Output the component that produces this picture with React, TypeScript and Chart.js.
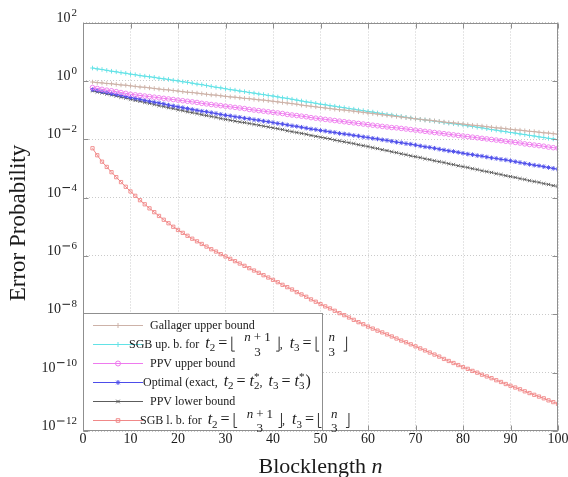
import { useEffect, useRef } from "react";
import { Chart, registerables } from "chart.js";

Chart.register(...registerables);

// ---------------- data ----------------
const blocklengths = [
  2, 3, 4, 5, 6, 7, 8, 9, 10,
  11, 12, 13, 14, 15, 16, 17, 18, 19, 20,
  21, 22, 23, 24, 25, 26, 27, 28, 29, 30,
  31, 32, 33, 34, 35, 36, 37, 38, 39, 40,
  41, 42, 43, 44, 45, 46, 47, 48, 49, 50,
  51, 52, 53, 54, 55, 56, 57, 58, 59, 60,
  61, 62, 63, 64, 65, 66, 67, 68, 69, 70,
  71, 72, 73, 74, 75, 76, 77, 78, 79, 80,
  81, 82, 83, 84, 85, 86, 87, 88, 89, 90,
  91, 92, 93, 94, 95, 96, 97, 98, 99, 100,
];

const xTickValues = [0, 10, 20, 30, 40, 50, 60, 70, 80, 90, 100];
const yTickExponents = [2, 0, -2, -4, -6, -8, -10, -12];

// log10 of the error probability, one value per blocklength
const gallagerUpperLog10 = [
  -0.04, -0.06, -0.07, -0.09, -0.10, -0.12, -0.14, -0.15, -0.17,
  -0.19, -0.21, -0.22, -0.24, -0.26, -0.28, -0.30, -0.31, -0.33, -0.35,
  -0.37, -0.39, -0.40, -0.42, -0.44, -0.46, -0.48, -0.49, -0.51, -0.53,
  -0.55, -0.56, -0.58, -0.60, -0.61, -0.63, -0.65, -0.66, -0.68, -0.70,
  -0.72, -0.74, -0.76, -0.78, -0.80, -0.83, -0.85, -0.87, -0.89, -0.91,
  -0.93, -0.95, -0.97, -0.99, -1.00, -1.02, -1.04, -1.06, -1.08, -1.10,
  -1.12, -1.14, -1.16, -1.18, -1.20, -1.22, -1.24, -1.26, -1.28, -1.30,
  -1.32, -1.34, -1.35, -1.37, -1.39, -1.41, -1.43, -1.44, -1.46, -1.48,
  -1.50, -1.52, -1.53, -1.55, -1.57, -1.59, -1.61, -1.62, -1.64, -1.66,
  -1.68, -1.69, -1.71, -1.73, -1.74, -1.76, -1.78, -1.79, -1.81, -1.83,
];

const sgbUpperLog10 = [
  0.44, 0.41, 0.39, 0.36, 0.33, 0.31, 0.28, 0.26, 0.23,
  0.21, 0.18, 0.16, 0.14, 0.12, 0.09, 0.07, 0.05, 0.02, 0.0,
  -0.03, -0.05, -0.08, -0.11, -0.13, -0.16, -0.19, -0.22, -0.24, -0.27,
  -0.30, -0.32, -0.35, -0.37, -0.40, -0.42, -0.45, -0.47, -0.50, -0.52,
  -0.55, -0.58, -0.60, -0.63, -0.66, -0.69, -0.72, -0.74, -0.77, -0.80,
  -0.82, -0.85, -0.87, -0.90, -0.92, -0.95, -0.97, -1.00, -1.02, -1.05,
  -1.07, -1.10, -1.12, -1.15, -1.17, -1.20, -1.22, -1.25, -1.27, -1.30,
  -1.32, -1.34, -1.36, -1.38, -1.40, -1.43, -1.45, -1.47, -1.49, -1.51,
  -1.54, -1.56, -1.59, -1.61, -1.64, -1.67, -1.69, -1.72, -1.74, -1.77,
  -1.79, -1.82, -1.84, -1.87, -1.89, -1.92, -1.94, -1.97, -1.99, -2.02,
];

const ppvUpperLog10 = [
  -0.23, -0.26, -0.29, -0.32, -0.34, -0.37, -0.40, -0.43, -0.46,
  -0.48, -0.50, -0.52, -0.54, -0.56, -0.58, -0.60, -0.62, -0.64, -0.66,
  -0.68, -0.70, -0.72, -0.74, -0.77, -0.79, -0.81, -0.83, -0.85, -0.87,
  -0.89, -0.91, -0.93, -0.95, -0.98, -1.00, -1.02, -1.04, -1.06, -1.08,
  -1.10, -1.12, -1.15, -1.17, -1.19, -1.21, -1.23, -1.26, -1.28, -1.30,
  -1.32, -1.34, -1.36, -1.38, -1.40, -1.42, -1.44, -1.46, -1.48, -1.50,
  -1.52, -1.54, -1.56, -1.58, -1.60, -1.61, -1.63, -1.65, -1.67, -1.69,
  -1.71, -1.73, -1.75, -1.77, -1.79, -1.81, -1.83, -1.85, -1.87, -1.89,
  -1.91, -1.93, -1.95, -1.97, -1.99, -2.01, -2.03, -2.05, -2.07, -2.09,
  -2.11, -2.13, -2.16, -2.18, -2.20, -2.22, -2.24, -2.27, -2.29, -2.31,
];

const optimalLog10 = [
  -0.30, -0.33, -0.37, -0.40, -0.44, -0.47, -0.50, -0.54, -0.57,
  -0.60, -0.63, -0.67, -0.70, -0.73, -0.76, -0.79, -0.83, -0.86, -0.89,
  -0.92, -0.95, -0.98, -1.01, -1.04, -1.06, -1.09, -1.12, -1.15, -1.18,
  -1.20, -1.23, -1.25, -1.28, -1.30, -1.33, -1.35, -1.38, -1.40, -1.43,
  -1.46, -1.48, -1.51, -1.54, -1.56, -1.59, -1.62, -1.65, -1.67, -1.70,
  -1.72, -1.75, -1.77, -1.80, -1.82, -1.84, -1.87, -1.89, -1.92, -1.94,
  -1.97, -1.99, -2.02, -2.04, -2.07, -2.10, -2.12, -2.15, -2.17, -2.20,
  -2.23, -2.26, -2.28, -2.31, -2.34, -2.37, -2.40, -2.42, -2.45, -2.48,
  -2.51, -2.53, -2.56, -2.58, -2.61, -2.64, -2.66, -2.69, -2.71, -2.74,
  -2.77, -2.80, -2.83, -2.86, -2.89, -2.91, -2.94, -2.97, -3.00, -3.03,
];

const ppvLowerLog10 = [
  -0.34, -0.38, -0.41, -0.45, -0.48, -0.52, -0.56, -0.59, -0.63,
  -0.67, -0.70, -0.74, -0.77, -0.81, -0.85, -0.88, -0.92, -0.95, -0.99,
  -1.02, -1.06, -1.09, -1.12, -1.16, -1.19, -1.22, -1.25, -1.29, -1.32,
  -1.35, -1.38, -1.41, -1.43, -1.46, -1.49, -1.52, -1.55, -1.58, -1.61,
  -1.64, -1.67, -1.71, -1.74, -1.77, -1.80, -1.83, -1.87, -1.90, -1.93,
  -1.96, -1.99, -2.03, -2.06, -2.09, -2.12, -2.15, -2.19, -2.22, -2.25,
  -2.29, -2.32, -2.36, -2.39, -2.43, -2.46, -2.50, -2.53, -2.57, -2.60,
  -2.63, -2.67, -2.70, -2.74, -2.77, -2.80, -2.84, -2.87, -2.91, -2.94,
  -2.97, -3.01, -3.04, -3.08, -3.11, -3.14, -3.18, -3.21, -3.25, -3.28,
  -3.31, -3.35, -3.38, -3.42, -3.45, -3.48, -3.52, -3.55, -3.59, -3.62,
];

const sgbLowerLog10 = [
  -2.31, -2.55, -2.77, -2.95, -3.13, -3.30, -3.47, -3.63, -3.79,
  -3.94, -4.09, -4.23, -4.37, -4.50, -4.63, -4.76, -4.88, -5.00, -5.11,
  -5.21, -5.31, -5.41, -5.50, -5.59, -5.68, -5.77, -5.85, -5.94, -6.02,
  -6.10, -6.18, -6.26, -6.34, -6.42, -6.50, -6.58, -6.66, -6.74, -6.82,
  -6.90, -6.99, -7.07, -7.15, -7.24, -7.32, -7.40, -7.49, -7.57, -7.65,
  -7.73, -7.80, -7.88, -7.96, -8.03, -8.11, -8.19, -8.27, -8.34, -8.42,
  -8.49, -8.56, -8.62, -8.69, -8.76, -8.83, -8.90, -8.96, -9.03, -9.10,
  -9.17, -9.24, -9.31, -9.38, -9.45, -9.53, -9.60, -9.67, -9.74, -9.81,
  -9.87, -9.94, -10.00, -10.07, -10.13, -10.19, -10.26, -10.32, -10.39, -10.45,
  -10.51, -10.57, -10.64, -10.70, -10.76, -10.82, -10.88, -10.95, -11.01, -11.07,
];

// ---------------- styling ----------------
const FONT = '"Liberation Serif", "Times New Roman", serif';
const AXIS_COLOR = "#8f8f8f";
const GRID_COLOR = "#cacaca";
const TEXT_COLOR = "#1a1a1a";

const series = [
  { label: "Gallager upper bound", values: gallagerUpperLog10, color: "#cdb2a8", point: "cross" },
  { label: "SGB up. b.", values: sgbUpperLog10, color: "#62e2e6", point: "cross" },
  { label: "PPV upper bound", values: ppvUpperLog10, color: "#ee7aee", point: "circle" },
  { label: "Optimal", values: optimalLog10, color: "#4d4dea", point: "star" },
  { label: "PPV lower bound", values: ppvLowerLog10, color: "#5c5c5c", point: "crossRot" },
  { label: "SGB l. b.", values: sgbLowerLog10, color: "#f08888", point: "rect" },
];

// ---------------- legend rich text ----------------
type Seg = any;
const r = (t: string): Seg => ({ k: "r", t });
const it = (t: string): Seg => ({ k: "i", t });
const m = (t: string): Seg => ({ k: "m", t });
const sub = (t: string): Seg => ({ k: "sub", t });
const subsup = (s: string, p: string): Seg => ({ k: "subsup", sub: s, sup: p });
const sp = (w: number): Seg => ({ k: "sp", w });
const floorL: Seg = { k: "floorL" };
const floorR: Seg = { k: "floorR" };
const frac = (num: Seg[], den: string): Seg => ({ k: "frac", num, den });

const floorMath = (): Seg[] => [
  sp(3), it("t"), sub("2"), sp(3), m("="), sp(4), floorL, sp(9),
  frac([it("n"), sp(3), m("+"), sp(3), m("1")], "3"), sp(5), floorR, r(", "), sp(4),
  it("t"), sub("3"), sp(3), m("="), sp(4), floorL, sp(9), frac([it("n")], "3"), sp(8), floorR,
];

const legendTexts: { x: number; segs: Seg[] }[] = [
  { x: 150, segs: [r("Gallager upper bound")] },
  { x: 129, segs: [r("SGB up. b. for "), ...floorMath()] },
  { x: 150, segs: [r("PPV upper bound")] },
  {
    x: 143,
    segs: [
      r("Optimal (exact, "), sp(3), it("t"), sub("2"), sp(3), m("="), sp(4), it("t"), subsup("2", "*"),
      r(", "), sp(3), it("t"), sub("3"), sp(3), m("="), sp(4), it("t"), subsup("3", "*"), sp(1), m(")"),
    ],
  },
  { x: 150, segs: [r("PPV lower bound")] },
  { x: 140, segs: [r("SGB l. b. for "), ...floorMath()] },
];

const TEXT_PX = 12;
const MATH_PX = 16;
const SUB_PX = 11;
const NUM_PX = 13;

function drawSegs(ctx: CanvasRenderingContext2D, segs: Seg[], x0: number, base: number, mathPx: number, draw: boolean): number {
  let x = x0;
  for (const s of segs) {
    if (s.k === "r" || s.k === "i" || s.k === "m") {
      const size = s.k === "r" ? TEXT_PX : mathPx;
      ctx.font = `${s.k === "i" ? "italic " : ""}${size}px ${FONT}`;
      if (draw) ctx.fillText(s.t, x, base);
      x += ctx.measureText(s.t).width;
    } else if (s.k === "sub") {
      ctx.font = `${SUB_PX}px ${FONT}`;
      if (draw) ctx.fillText(s.t, x, base + 3.5);
      x += ctx.measureText(s.t).width;
    } else if (s.k === "subsup") {
      ctx.font = `${SUB_PX}px ${FONT}`;
      const w1 = ctx.measureText(s.sub).width;
      const w2 = ctx.measureText(s.sup).width;
      if (draw) {
        ctx.fillText(s.sub, x, base + 3.5);
        ctx.fillText(s.sup, x, base - 5.5);
      }
      x += Math.max(w1, w2);
    } else if (s.k === "sp") {
      x += s.w;
    } else if (s.k === "floorL" || s.k === "floorR") {
      if (draw) {
        ctx.save();
        ctx.strokeStyle = TEXT_COLOR;
        ctx.lineWidth = 0.9;
        ctx.beginPath();
        if (s.k === "floorL") {
          ctx.moveTo(x + 0.5, base - 11);
          ctx.lineTo(x + 0.5, base + 3.5);
          ctx.lineTo(x + 3.5, base + 3.5);
        } else {
          ctx.moveTo(x + 3.5, base - 11);
          ctx.lineTo(x + 3.5, base + 3.5);
          ctx.lineTo(x + 0.5, base + 3.5);
        }
        ctx.stroke();
        ctx.restore();
      }
      x += 4;
    } else if (s.k === "frac") {
      const nw = drawSegs(ctx, s.num, 0, 0, NUM_PX, false);
      ctx.font = `${NUM_PX}px ${FONT}`;
      const dw = ctx.measureText(s.den).width;
      const w = Math.max(nw, dw);
      if (draw) {
        drawSegs(ctx, s.num, x + (w - nw) / 2, base - 6.5, NUM_PX, true);
        ctx.font = `${NUM_PX}px ${FONT}`;
        ctx.fillText(s.den, x + (w - dw) / 2, base + 8);
      }
      x += w;
    }
  }
  return x;
}

function drawMarker(ctx: CanvasRenderingContext2D, style: string, x: number, y: number, rad: number, color: string) {
  ctx.save();
  ctx.strokeStyle = color;
  ctx.lineWidth = 1;
  ctx.beginPath();
  const d = rad * Math.SQRT1_2;
  if (style === "cross" || style === "star") {
    ctx.moveTo(x - rad, y);
    ctx.lineTo(x + rad, y);
    ctx.moveTo(x, y - rad);
    ctx.lineTo(x, y + rad);
  }
  if (style === "crossRot" || style === "star") {
    ctx.moveTo(x - d, y - d);
    ctx.lineTo(x + d, y + d);
    ctx.moveTo(x - d, y + d);
    ctx.lineTo(x + d, y - d);
  }
  if (style === "circle") ctx.arc(x, y, rad, 0, Math.PI * 2);
  if (style === "rect") ctx.rect(x - d, y - d, 2 * d, 2 * d);
  ctx.stroke();
  ctx.restore();
}

const decorPlugin = {
  id: "decor",
  afterDraw(chart: any) {
    const { ctx, chartArea: a, scales } = chart;
    const xs = scales.x;
    const ys = scales.y;
    ctx.save();
    ctx.setLineDash([]);

    // plot box
    const L = Math.round(a.left) + 0.5;
    const R = Math.round(a.right) - 0.5;
    const T = Math.round(a.top) + 0.5;
    const B = Math.round(a.bottom) - 0.5;
    ctx.strokeStyle = AXIS_COLOR;
    ctx.lineWidth = 1;
    ctx.strokeRect(L, T, R - L, B - T);

    // inward tick marks
    ctx.beginPath();
    for (const e of yTickExponents) {
      const y = Math.round(ys.getPixelForValue(Math.pow(10, e))) + 0.5;
      ctx.moveTo(L, y);
      ctx.lineTo(L + 5, y);
      ctx.moveTo(R, y);
      ctx.lineTo(R - 5, y);
    }
    for (const v of xTickValues) {
      const x = Math.round(xs.getPixelForValue(v)) + 0.5;
      ctx.moveTo(x, B);
      ctx.lineTo(x, B - 5);
      ctx.moveTo(x, T);
      ctx.lineTo(x, T + 5);
    }
    ctx.stroke();

    ctx.fillStyle = TEXT_COLOR;

    // x tick labels
    ctx.font = `14px ${FONT}`;
    ctx.textAlign = "center";
    ctx.textBaseline = "middle";
    for (const v of xTickValues) {
      ctx.fillText(String(v), xs.getPixelForValue(v), a.bottom + 8);
    }

    // y tick labels 10^e
    ctx.textAlign = "left";
    ctx.textBaseline = "alphabetic";
    for (const e of yTickExponents) {
      const y = ys.getPixelForValue(Math.pow(10, e));
      const digits = String(Math.abs(e));
      ctx.font = `11px ${FONT}`;
      const dw = ctx.measureText(digits).width;
      const minusW = e < 0 ? 9.5 : 0;
      const expW = dw + minusW;
      ctx.font = `14px ${FONT}`;
      const bw = ctx.measureText("10").width;
      const right = 77;
      const x0 = right - expW - bw - 1;
      ctx.fillText("10", x0, y - 1);
      const ex = x0 + bw + 1;
      if (e < 0) {
        ctx.fillRect(ex + 0.5, y - 10.5, 7.5, 1);
      }
      ctx.font = `11px ${FONT}`;
      ctx.fillText(digits, ex + minusW, y - 7);
    }

    // axis titles
    ctx.font = `22px ${FONT}`;
    ctx.textBaseline = "alphabetic";
    const t1 = "Blocklength ";
    const w1 = ctx.measureText(t1).width;
    ctx.font = `italic 22px ${FONT}`;
    const w2 = ctx.measureText("n").width;
    const cx = (a.left + a.right) / 2;
    const sx = cx - (w1 + w2) / 2;
    ctx.font = `22px ${FONT}`;
    ctx.fillText(t1, sx, 473);
    ctx.font = `italic 22px ${FONT}`;
    ctx.fillText("n", sx + w1, 473);

    ctx.save();
    ctx.translate(25, 223);
    ctx.rotate(-Math.PI / 2);
    ctx.font = `23px ${FONT}`;
    ctx.textAlign = "center";
    ctx.fillText("Error Probability", 0, 0);
    ctx.restore();

    // legend box
    const lx = 83.5, ly = 313.5, lw = 239, lh = 117;
    ctx.fillStyle = "#ffffff";
    ctx.fillRect(lx, ly, lw, lh);
    ctx.strokeStyle = AXIS_COLOR;
    ctx.strokeRect(lx, ly, lw, lh);

    for (let i = 0; i < series.length; i++) {
      const s = series[i];
      const cy = 324.5 + i * 19.1;
      ctx.strokeStyle = s.color;
      ctx.lineWidth = 1;
      ctx.beginPath();
      ctx.moveTo(93, Math.round(cy) + 0.5);
      ctx.lineTo(143, Math.round(cy) + 0.5);
      ctx.stroke();
      drawMarker(ctx, s.point, 118, Math.round(cy) + 0.5, 2.5, s.color);
      ctx.fillStyle = TEXT_COLOR;
      ctx.textAlign = "left";
      ctx.textBaseline = "alphabetic";
      drawSegs(ctx, legendTexts[i].segs, legendTexts[i].x, cy + 4, MATH_PX, true);
    }
    ctx.restore();
  },
};

export default function App() {
  const canvasRef = useRef<HTMLCanvasElement | null>(null);

  useEffect(() => {
    const canvas = canvasRef.current;
    if (!canvas) return;
    const datasets = series.map((s) => ({
      label: s.label,
      data: blocklengths.map((n, i) => ({ x: n, y: Math.pow(10, s.values[i]) })),
      borderColor: s.color,
      backgroundColor: "rgba(0,0,0,0)",
      pointBorderColor: s.color,
      pointBackgroundColor: "rgba(0,0,0,0)",
      pointStyle: s.point,
      pointRadius: 2.3,
      pointHoverRadius: 2.3,
      pointBorderWidth: 0.9,
      borderWidth: 1,
      tension: 0,
      fill: false,
    }));

    const gridOpts = { color: GRID_COLOR, lineWidth: 1, drawTicks: false };
    const chart = new Chart(canvas, {
      type: "line",
      data: { datasets },
      plugins: [decorPlugin],
      options: {
        responsive: false,
        animation: false,
        devicePixelRatio: 1,
        layout: { padding: { left: 0, right: 10, top: 22.5, bottom: 0 } },
        plugins: { legend: { display: false }, tooltip: { enabled: false } },
        events: [],
        scales: {
          x: {
            type: "linear",
            min: 0,
            max: 100,
            afterBuildTicks: (s: any) => {
              s.ticks = xTickValues.map((v) => ({ value: v }));
            },
            afterFit: (s: any) => {
              s.height = 46;
            },
            ticks: { display: false },
            grid: gridOpts,
            border: { display: false, dash: [1, 2] },
          },
          y: {
            type: "logarithmic",
            min: 1e-12,
            max: 1e2,
            afterBuildTicks: (s: any) => {
              s.ticks = yTickExponents.map((e) => ({ value: Math.pow(10, e) }));
            },
            afterFit: (s: any) => {
              s.width = 83;
            },
            ticks: { display: false },
            grid: gridOpts,
            border: { display: false, dash: [1, 2] },
          },
        },
      } as any,
    });
    return () => chart.destroy();
  }, []);

  return (
    <div style={{ position: "fixed", left: 0, top: 0, width: 568, height: 477, background: "#fff" }}>
      <canvas ref={canvasRef} width={568} height={477} style={{ width: 568, height: 477, display: "block" }} />
    </div>
  );
}
